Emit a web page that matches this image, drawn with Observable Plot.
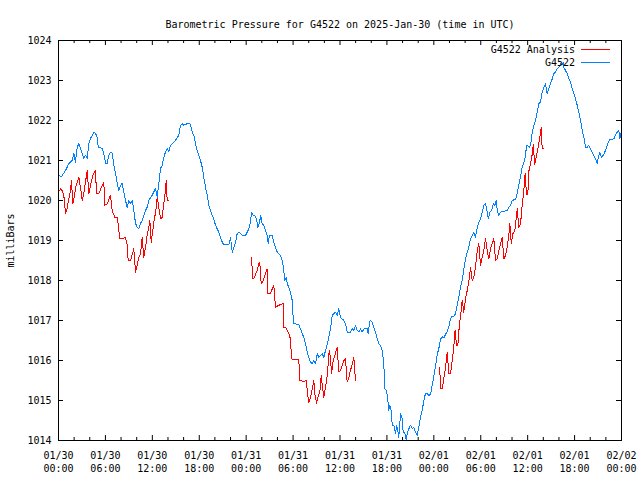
<!DOCTYPE html>
<html><head><meta charset="utf-8">
<script src="https://cdn.jsdelivr.net/npm/d3@7"></script>
<script src="https://cdn.jsdelivr.net/npm/@observablehq/plot@0.6"></script>
<style>
body{margin:0;background:#fff;}
#wrap{position:relative;width:640px;height:480px;font-family:"DejaVu Sans Mono",monospace;font-size:10px;color:#000;}
#legend{position:absolute;right:30px;top:43px;}
#legend .row{display:flex;justify-content:flex-end;align-items:center;height:13px;}
#legend .swatch{display:inline-block;width:29px;height:1px;margin-left:6px;}
</style></head><body><div id="wrap"></div>
<script>
const titleText = "Barometric Pressure for G4522 on 2025-Jan-30 (time in UTC)";
const yLabel = "milliBars";
const seriesNames = ["G4522 Analysis", "G4522"];
const seriesColors = ["#ff0000", "#0080ff"];
const startUTC = Date.UTC(2025, 0, 30);
const endHours = 72;
const xTickHours = [0, 6, 12, 18, 24, 30, 36, 42, 48, 54, 60, 66, 72];
const xMinorHours = [2, 4, 8, 10, 14, 16, 20, 22, 26, 28, 32, 34, 38, 40, 44, 46, 50, 52, 56, 58, 62, 64, 68, 70];
const yTicks = [1014, 1015, 1016, 1017, 1018, 1019, 1020, 1021, 1022, 1023, 1024];

// G4522 observed (hours after 2025-01-30 00:00 UTC)
const blueHours = [0.00,0.38,0.90,1.32,1.75,1.96,2.17,2.39,2.60,2.81,3.03,3.24,3.45,3.67,3.88,4.09,4.31,4.51,4.73,4.95,5.08,5.59,5.79,6.01,6.23,6.43,6.65,6.87,7.07,7.29,7.51,7.71,7.93,8.15,8.35,8.57,8.79,8.99,9.21,9.43,9.63,9.85,10.07,10.27,10.49,10.70,10.91,11.13,11.34,11.55,11.98,12.41,12.62,12.83,13.05,13.26,13.47,13.68,13.90,14.11,14.32,14.54,14.96,15.39,15.60,15.82,16.02,16.46,16.79,16.97,17.10,17.30,17.52,17.74,17.94,18.16,18.38,18.58,18.80,19.02,19.22,19.44,19.66,19.86,20.08,20.30,20.50,20.72,20.94,21.14,21.78,22.00,22.22,22.42,22.64,22.85,23.06,23.49,23.92,24.13,24.34,24.56,24.68,24.90,25.10,25.32,25.49,25.71,25.87,26.05,26.26,26.47,26.69,26.82,26.98,27.33,27.53,27.75,27.97,28.17,28.39,28.61,28.81,28.90,29.12,29.25,29.45,29.67,29.89,29.97,30.09,30.73,30.95,31.17,31.37,31.59,31.81,32.01,32.23,32.45,32.65,32.87,33.09,33.29,33.51,33.73,33.93,34.15,34.37,34.57,34.79,35.00,35.21,35.43,35.64,35.85,36.06,36.28,36.49,36.70,36.92,37.34,37.56,37.77,37.98,38.20,38.41,38.62,38.84,39.05,39.48,39.61,39.78,39.90,40.12,40.32,40.54,40.76,40.96,41.18,41.40,41.60,41.73,41.95,42.11,42.24,42.37,42.55,42.68,42.88,43.10,43.23,43.39,43.52,43.74,43.96,44.08,44.25,44.47,44.60,44.80,45.02,45.24,45.44,45.66,45.87,46.08,46.30,46.51,46.72,46.94,47.15,47.36,47.58,47.79,48.00,48.21,48.43,48.64,48.85,49.07,49.28,49.49,49.71,49.92,50.13,50.35,50.56,50.77,50.99,51.20,51.41,51.63,51.83,52.05,52.27,52.47,52.69,52.91,53.11,53.33,53.55,53.75,53.97,54.19,54.39,54.61,54.83,54.96,55.16,55.38,55.60,55.80,55.98,56.11,56.31,56.53,56.95,57.38,57.59,57.81,58.02,58.45,58.66,58.87,59.09,59.30,59.51,59.73,59.85,60.07,60.27,60.49,60.58,60.79,61.00,61.22,61.42,61.64,61.86,62.07,62.28,62.50,62.71,62.92,63.14,63.35,63.56,63.78,63.98,64.20,64.42,64.55,64.62,64.84,65.06,65.26,65.48,65.70,65.90,66.12,66.34,66.54,66.76,66.98,67.18,67.40,67.62,67.82,68.04,68.26,68.46,68.68,68.89,69.10,69.23,69.45,69.66,69.87,70.08,70.30,70.51,71.02,71.23,71.45,71.66,71.79,71.97];
const bluePressure = [1020.63,1020.60,1020.75,1020.92,1021.00,1021.18,1020.96,1021.33,1021.42,1021.30,1021.18,1021.05,1021.13,1021.05,1021.42,1021.55,1021.63,1021.71,1021.68,1021.58,1021.33,1021.30,1021.18,1020.93,1020.93,1021.13,1021.21,1021.18,1020.88,1020.68,1020.43,1020.25,1020.38,1020.43,1020.21,1020.00,1019.83,1020.00,1019.93,1020.00,1019.75,1019.43,1019.33,1019.30,1019.43,1019.50,1019.63,1019.75,1019.83,1020.00,1020.13,1020.30,1020.08,1020.43,1020.80,1020.88,1021.08,1021.21,1021.30,1021.21,1021.38,1021.42,1021.50,1021.63,1021.88,1021.92,1021.88,1021.92,1021.92,1021.83,1021.71,1021.63,1021.42,1021.25,1021.13,1021.00,1020.83,1020.58,1020.33,1020.13,1019.88,1019.75,1019.63,1019.54,1019.38,1019.29,1019.21,1019.08,1018.96,1018.89,1018.89,1019.08,1018.71,1018.83,1018.96,1019.17,1019.21,1019.13,1019.13,1019.21,1019.29,1019.46,1019.71,1019.63,1019.63,1019.54,1019.33,1019.46,1019.63,1019.42,1019.38,1019.25,1019.13,1018.92,1019.13,1019.13,1018.96,1018.83,1018.71,1018.67,1018.63,1018.50,1018.29,1018.00,1018.08,1017.92,1017.83,1017.71,1017.50,1017.17,1016.92,1016.90,1016.79,1016.67,1016.58,1016.42,1016.21,1016.08,1015.96,1015.92,1016.00,1015.92,1016.17,1016.08,1016.13,1016.17,1016.08,1016.25,1016.42,1016.58,1016.79,1017.13,1017.17,1017.21,1017.13,1017.29,1017.08,1017.04,1017.00,1016.92,1016.71,1016.71,1016.79,1016.75,1016.88,1016.75,1016.71,1016.79,1016.71,1016.79,1016.79,1016.67,1016.96,1017.00,1016.96,1016.83,1016.71,1016.54,1016.42,1016.38,1016.25,1015.92,1015.29,1015.25,1015.04,1014.75,1014.88,1014.75,1014.38,1014.38,1014.17,1014.38,1014.25,1014.08,1014.67,1014.54,1014.21,1014.21,1014.02,1014.17,1014.29,1014.38,1014.29,1014.33,1014.21,1014.13,1014.33,1014.58,1014.75,1015.00,1015.18,1015.17,1015.13,1015.15,1015.38,1015.60,1015.85,1016.15,1016.30,1016.53,1016.59,1016.56,1016.65,1016.73,1016.85,1017.04,1017.11,1017.10,1017.17,1017.38,1017.58,1017.83,1018.00,1018.29,1018.54,1018.71,1018.83,1019.04,1019.13,1019.21,1019.08,1019.33,1019.46,1019.54,1019.71,1019.88,1019.92,1019.71,1019.54,1019.71,1019.75,1019.92,1019.88,1020.00,1019.75,1019.63,1019.71,1019.73,1019.75,1019.83,1019.88,1020.00,1020.03,1020.18,1020.38,1020.60,1020.83,1020.93,1021.13,1021.38,1021.36,1021.33,1021.50,1021.71,1021.88,1022.00,1022.21,1022.42,1022.46,1022.71,1022.83,1022.92,1022.67,1022.79,1022.92,1023.04,1023.17,1023.21,1023.29,1023.33,1023.42,1023.40,1023.46,1023.33,1023.25,1023.17,1023.04,1022.96,1022.79,1022.67,1022.54,1022.38,1022.21,1022.00,1021.75,1021.58,1021.33,1021.33,1021.38,1021.29,1021.21,1021.13,1021.04,1020.92,1021.13,1021.21,1021.08,1021.13,1021.21,1021.33,1021.46,1021.53,1021.54,1021.63,1021.71,1021.75,1021.54,1021.71];

// G4522 Analysis (null = gap between analysis runs)
const redHours = [0.13,0.26,0.47,0.68,0.90,1.11,1.24,1.53,1.66,1.83,2.05,2.26,2.60,2.81,3.03,3.24,3.45,3.67,3.88,4.09,4.39,4.73,4.86,5.15,5.59,5.79,5.92,6.23,6.65,6.87,7.20,7.51,7.71,7.80,8.15,8.57,8.79,8.91,9.21,9.63,9.85,10.07,10.27,10.49,10.70,10.91,11.13,11.34,11.55,11.68,11.86,12.06,12.28,12.41,12.62,12.83,13.05,13.26,13.47,13.68,13.77,13.90,14.03,
  null,
  24.68,24.85,25.06,25.41,25.62,25.74,25.92,26.18,26.47,26.69,26.77,27.11,27.33,27.53,27.75,28.17,28.74,28.81,29.03,29.25,29.45,29.67,29.80,30.31,30.73,30.86,31.37,31.72,31.81,32.01,32.23,32.45,32.65,32.78,33.00,33.16,33.42,33.60,33.76,33.93,34.15,34.37,34.49,34.62,34.79,34.91,35.13,35.34,35.64,35.85,36.06,36.49,36.70,36.92,37.13,37.34,37.69,37.77,37.89,37.98,
  null,
  48.76,48.85,49.07,49.28,49.49,49.71,49.92,50.13,50.35,50.56,50.71,50.90,51.07,51.25,51.41,51.63,51.83,52.05,52.27,52.47,52.69,52.91,53.11,53.33,53.55,53.75,53.97,54.19,54.39,54.61,54.83,55.03,55.25,55.46,55.67,55.89,56.11,56.31,56.53,56.75,56.95,57.17,57.38,57.59,57.72,57.90,58.10,58.36,58.66,58.87,59.09,59.30,59.51,59.67,59.85,60.02,60.17,60.36,60.58,60.71,60.90,61.13,61.35,61.55,61.73,61.86,61.99];
const redPressure = [1020.25,1020.29,1020.25,1020.13,1019.67,1019.79,1019.96,1020.25,1020.50,1019.92,1020.13,1020.38,1020.58,1020.33,1020.00,1020.17,1020.46,1020.75,1020.17,1020.38,1020.63,1020.75,1020.17,1020.17,1020.38,1020.46,1019.88,1019.92,1020.13,1019.75,1019.58,1019.58,1019.29,1019.04,1019.04,1019.08,1018.88,1018.50,1018.50,1018.79,1018.21,1018.38,1018.58,1018.67,1019.08,1018.58,1018.83,1019.13,1019.33,1019.50,1018.96,1019.25,1019.58,1019.67,1020.08,1019.83,1019.54,1019.58,1019.92,1020.25,1020.50,1020.00,1020.00,
  null,
  1018.58,1018.04,1018.08,1018.25,1018.42,1018.46,1017.92,1018.00,1018.17,1018.29,1017.67,1017.67,1017.79,1017.88,1017.33,1017.38,1017.42,1016.83,1016.83,1016.75,1016.67,1016.54,1016.04,1016.02,1016.02,1015.50,1015.48,1015.50,1015.21,1014.96,1015.08,1015.29,1015.50,1015.17,1014.93,1015.08,1015.21,1015.63,1015.33,1015.08,1015.33,1015.63,1015.92,1016.25,1016.08,1015.67,1016.00,1016.13,1016.33,1015.71,1015.75,1016.00,1016.04,1015.46,1015.58,1015.75,1016.00,1016.08,1015.75,1015.50,
  null,
  1015.83,1015.29,1015.29,1015.55,1015.80,1016.21,1015.67,1015.67,1015.99,1016.36,1016.75,1016.38,1016.38,1016.85,1017.10,1017.50,1017.21,1017.54,1017.75,1017.96,1018.33,1018.00,1018.08,1018.33,1018.75,1018.92,1018.38,1018.58,1018.75,1019.04,1018.75,1018.54,1018.79,1018.92,1019.04,1018.50,1018.54,1018.75,1018.92,1019.08,1018.54,1018.63,1018.83,1019.13,1019.42,1018.92,1019.17,1019.25,1019.79,1019.33,1019.42,1019.88,1020.25,1020.67,1020.15,1020.15,1020.75,1020.92,1021.15,1021.40,1020.90,1021.13,1021.33,1021.58,1021.83,1021.29,1021.29];

const toDate = h => h == null ? null : new Date(startUTC + h * 3600e3);
const blue = blueHours.map((h, i) => ({t: toDate(h), p: bluePressure[i]}));
const red = redHours.map((h, i) => ({t: toDate(h), p: redPressure[i]}));
const majorDates = xTickHours.map(toDate);
const minorDates = xMinorHours.map(toDate);
const fmtDay = d3.utcFormat("%m/%d"), fmtTime = d3.utcFormat("%H:%M");

const chart = Plot.plot({
  width: 640, height: 480,
  marginLeft: 58, marginRight: 19, marginTop: 40, marginBottom: 40,
  style: {fontFamily: "'DejaVu Sans Mono', monospace", fontSize: "10px", background: "#fff", color: "#000", overflow: "visible"},
  x: {type: "utc", domain: [toDate(0), toDate(endHours)]},
  y: {domain: [yTicks[0], yTicks[yTicks.length - 1]]},
  marks: [
    Plot.line(red, {x: "t", y: "p", stroke: seriesColors[0], strokeWidth: 1, shapeRendering: "crispEdges"}),
    Plot.line(blue, {x: "t", y: "p", stroke: seriesColors[1], strokeWidth: 1, shapeRendering: "crispEdges"}),
    Plot.frame({stroke: "#000"}),
    Plot.ruleX(majorDates, {insetTop: 395, stroke: "#000"}),
    Plot.ruleX(majorDates, {insetBottom: 395, stroke: "#000"}),
    Plot.ruleX(minorDates, {insetTop: 397, stroke: "#000"}),
    Plot.ruleX(minorDates, {insetBottom: 397, stroke: "#000"}),
    Plot.ruleY(yTicks, {insetRight: 558, stroke: "#000"}),
    Plot.ruleY(yTicks, {insetLeft: 558, stroke: "#000"}),
    Plot.axisX(majorDates, {tickSize: 0, tickPadding: 9, lineHeight: 1.3, tickFormat: d => fmtDay(d) + "\n" + fmtTime(d), label: null}),
    Plot.axisY(yTicks, {tickSize: 0, tickPadding: 7, tickFormat: d => String(d), label: yLabel, labelAnchor: "center", labelArrow: "none", labelOffset: 52}),
    Plot.text([titleText], {frameAnchor: "top", dy: -20})
  ]
});
const wrap = document.getElementById("wrap");
wrap.appendChild(chart);
const legend = document.createElement("div");
legend.id = "legend";
seriesNames.forEach((name, i) => {
  const row = document.createElement("div");
  row.className = "row";
  const span = document.createElement("span");
  span.textContent = name;
  row.appendChild(span);
  const sw = document.createElement("span");
  sw.className = "swatch";
  sw.style.backgroundColor = seriesColors[i];
  row.appendChild(sw);
  legend.appendChild(row);
});
wrap.appendChild(legend);
</script></body></html>
